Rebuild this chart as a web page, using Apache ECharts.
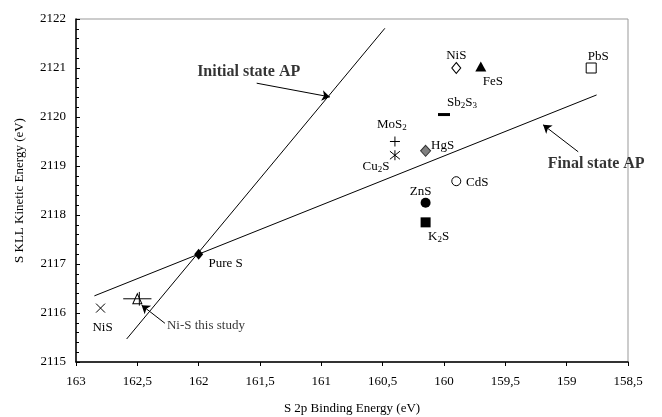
<!DOCTYPE html>
<html>
<head>
<meta charset="utf-8">
<script src="https://cdn.jsdelivr.net/npm/echarts@6/dist/echarts.min.js"></script>
<style>
  html, body { margin: 0; padding: 0; background: #fff; }
  #chart { width: 662px; height: 417px; }
</style>
</head>
<body>
<div id="chart"></div>
<script>
// reference compounds: S 2p binding energy vs S KLL kinetic energy
const compounds = ['NiS', 'Pure S', 'NiS', 'FeS', 'PbS', 'Sb2S3', 'MoS2', 'Cu2S', 'HgS', 'CdS', 'ZnS', 'K2S'];
const bindingEnergy = [162.80, 162.00, 159.90, 159.70, 158.80, 160.00, 160.40, 160.40, 160.15, 159.90, 160.15, 160.15];
const kineticEnergy = [2116.10, 2117.20, 2121.00, 2121.03, 2121.00, 2120.05, 2119.50, 2119.22, 2119.31, 2118.69, 2118.25, 2117.85];

// this study (with error bars)
const studyPoint = [162.50, 2116.29];
const studyErrX = 0.115;
const studyErrY = 0.14;

// Auger parameter lines
const initialStateLine = [[162.587, 2115.47], [160.482, 2121.81]];
const finalStateLine = [[162.85, 2116.35], [158.756, 2120.45]];

// annotation arrows
const annotationText = ['Initial state AP', 'Final state AP', 'Ni-S this study'];
const arrowFrom = [[161.527, 2120.69], [158.906, 2119.29], [162.275, 2115.79]];
const arrowTo = [[160.93, 2120.41], [159.192, 2119.84], [162.465, 2116.16]];

const xTicks = [163, 162.5, 162, 161.5, 161, 160.5, 160, 159.5, 159, 158.5];
const yTicks = [2115, 2116, 2117, 2118, 2119, 2120, 2121, 2122];

const FONT = '"Liberation Serif", "Times New Roman", serif';

const crossPath = 'path://M0,0L10,10M10,0L0,10';
const plusPath = 'path://M5,0L5,10M0,5L10,5';
const starPath = 'path://M1,1L9,9M9,1L1,9M5,0L5,10';

// marker look, one per compound
const markerStyles = [
  { symbol: crossPath, size: 9, color: 'none', border: '#000', bw: 1 },
  { symbol: 'diamond', size: [9, 11], color: '#000', border: '#000', bw: 0 },
  { symbol: 'diamond', size: [9, 11], color: '#fff', border: '#000', bw: 1 },
  { symbol: 'triangle', size: [11, 10], color: '#000', border: '#000', bw: 0 },
  { symbol: 'rect', size: 10, color: '#fff', border: '#000', bw: 1 },
  { symbol: 'rect', size: [12, 3], color: '#000', border: '#000', bw: 0 },
  { symbol: plusPath, size: 10, color: 'none', border: '#000', bw: 1 },
  { symbol: starPath, size: 10, color: 'none', border: '#000', bw: 1 },
  { symbol: 'diamond', size: [10, 11], color: '#808080', border: '#333', bw: 1 },
  { symbol: 'circle', size: 9, color: '#fff', border: '#000', bw: 1 },
  { symbol: 'circle', size: 10, color: '#000', border: '#000', bw: 0 },
  { symbol: 'rect', size: 10, color: '#000', border: '#000', bw: 0 }
];
// label offset from marker (text centre)
const labelOffsets = [[2, 18], [27, 8], [0, -13], [12, 14], [7, -12], [18, -13], [-3, -18], [-19, 10], [17, -6], [21, 0], [-5, -12], [13, 13]];

function richName(name) {
  return name.replace(/([A-Za-z ]+)|(\d+)/g, function (m, a, d) {
    return a ? '{n|' + a + '}' : '{s|' + d + '}';
  });
}

const richStyle = {
  n: { fontSize: 13, fontFamily: FONT, color: '#000', lineHeight: 15, verticalAlign: 'bottom' },
  s: { fontSize: 9, fontFamily: FONT, color: '#000', lineHeight: 10, verticalAlign: 'bottom', padding: [0, 0, -1, 0] }
};

const pointData = compounds.map(function (name, i) {
  const st = markerStyles[i];
  return {
    value: [bindingEnergy[i], kineticEnergy[i]],
    symbol: st.symbol,
    symbolSize: st.size,
    itemStyle: { color: st.color, borderColor: st.border, borderWidth: st.bw, opacity: 1 },
    label: {
      show: true,
      position: 'inside',
      offset: labelOffsets[i],
      formatter: richName(name),
      rich: richStyle
    }
  };
});

const arrowLabelOffsets = [[-8, -11], [18, 12], [41, 2]];
const arrowTextData = annotationText.map(function (t, i) {
  return {
    value: arrowFrom[i],
    label: {
      show: true,
      position: 'inside',
      offset: arrowLabelOffsets[i],
      formatter: t,
      fontFamily: FONT,
      color: '#000',
      fontSize: i < 2 ? 16 : 13,
      fontWeight: i < 2 ? 'bold' : 'normal'
    }
  };
});

const chart = echarts.init(document.getElementById('chart'));
const option = {
  animation: false,
  backgroundColor: '#fff',
  grid: {
    left: 76, right: 34, top: 19, bottom: 55,
    outerBoundsMode: 'none', containLabel: false,
    show: true, borderColor: '#999', borderWidth: 1
  },
  xAxis: {
    type: 'value',
    inverse: true,
    min: 158.5,
    max: 163,
    interval: 0.5,
    name: 'S 2p Binding Energy (eV)',
    nameLocation: 'middle',
    nameGap: 40,
    nameTextStyle: { fontFamily: FONT, fontSize: 13, color: '#000' },
    axisLine: { lineStyle: { color: '#000', width: 1.5 } },
    axisTick: { show: true, length: 4, lineStyle: { color: '#000' } },
    axisLabel: {
      fontFamily: FONT, fontSize: 13, color: '#000', margin: 13,
      formatter: function (v) { return xTicks.indexOf(v) >= 0 ? String(v).replace('.', ',') : ''; }
    },
    splitLine: { show: false }
  },
  yAxis: {
    type: 'value',
    min: 2115,
    max: 2122,
    interval: 1,
    name: 'S KLL Kinetic Energy (eV)',
    nameLocation: 'middle',
    nameGap: 50,
    nameTextStyle: { fontFamily: FONT, fontSize: 13, color: '#000' },
    axisLine: { show: true, lineStyle: { color: '#000', width: 1.5 } },
    axisTick: { show: true, inside: true, length: 4, lineStyle: { color: '#000' } },
    minorTick: { show: true, splitNumber: 5, length: 3, lineStyle: { color: '#000' } },
    axisLabel: {
      fontFamily: FONT, fontSize: 13, color: '#000', margin: 10,
      formatter: function (v) { return yTicks.indexOf(v) >= 0 ? String(v) : ''; }
    },
    splitLine: { show: false }
  },
  series: [
    {
      type: 'line', data: initialStateLine, symbol: 'none',
      lineStyle: { color: '#000', width: 1 }, silent: true
    },
    {
      type: 'line', data: finalStateLine, symbol: 'none',
      lineStyle: { color: '#000', width: 1 }, silent: true
    },
    {
      type: 'lines',
      coordinateSystem: 'cartesian2d',
      symbol: ['none', 'arrow'],
      symbolSize: 8,
      lineStyle: { color: '#000', width: 1, opacity: 1 },
      data: arrowFrom.map(function (p, i) { return { coords: [p, arrowTo[i]] }; })
    },
    {
      type: 'custom',
      renderItem: function (params, api) {
        const c = api.coord(studyPoint);
        const l = api.coord([studyPoint[0] + studyErrX, studyPoint[1]]);
        const r = api.coord([studyPoint[0] - studyErrX, studyPoint[1]]);
        const t = api.coord([studyPoint[0], studyPoint[1] + studyErrY]);
        const b = api.coord([studyPoint[0], studyPoint[1] - studyErrY]);
        return {
          type: 'group',
          children: [
            { type: 'line', shape: { x1: l[0], y1: l[1], x2: r[0], y2: r[1] }, style: { stroke: '#000', lineWidth: 1 } },
            { type: 'line', shape: { x1: c[0] + 2, y1: t[1], x2: c[0] + 2, y2: b[1] }, style: { stroke: '#000', lineWidth: 1 } }
          ]
        };
      },
      data: [studyPoint]
    },
    {
      type: 'scatter',
      data: [{ value: studyPoint }],
      symbol: 'triangle',
      symbolSize: [9, 10],
      itemStyle: { color: 'none', borderColor: '#000', borderWidth: 1, opacity: 1 }
    },
    {
      type: 'scatter',
      data: pointData,
      z: 5
    },
    {
      type: 'scatter',
      data: arrowTextData,
      symbolSize: 0,
      z: 6
    }
  ]
};
chart.setOption(option);
</script>
</body>
</html>
